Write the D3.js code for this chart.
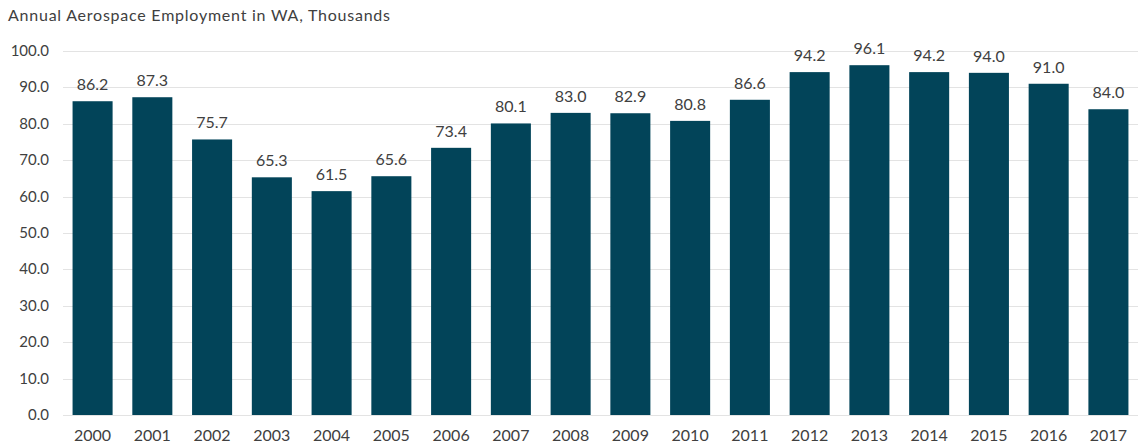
<!DOCTYPE html>
<html lang="en">
<head>
  <meta charset="UTF-8">
  <title>Annual Aerospace Employment in WA</title>
  <script src="https://d3js.org/d3.v7.min.js"></script>
  <style type="text/css">
    body { margin: 0; background: #fff; }
    text { font-family: "Lato", "Open Sans", sans-serif; fill: #404040; }
  </style>
</head>
<body>
<script type="text/javascript">
  var years = ["2000","2001","2002","2003","2004","2005","2006","2007","2008",
               "2009","2010","2011","2012","2013","2014","2015","2016","2017"];
  var employment = [86.2, 87.3, 75.7, 65.3, 61.5, 65.6, 73.4, 80.1, 83.0,
                    82.9, 80.8, 86.6, 94.2, 96.1, 94.2, 94.0, 91.0, 84.0];
  var yTicks = [0, 10, 20, 30, 40, 50, 60, 70, 80, 90, 100];
  var title = "Annual Aerospace Employment in WA, Thousands";

  var width = 1138, height = 444;
  var plotLeft = 63, plotRight = 1138, plotTop = 51, plotBottom = 415;

  var svg = d3.select("body").append("svg")
              .attr("width", width)
              .attr("height", height);

  var x = d3.scaleBand()
            .domain(years)
            .range([plotLeft, plotRight])
            .paddingInner(0.33)
            .paddingOuter(0.16);

  var y = d3.scaleLinear()
            .domain([0, 100])
            .range([plotBottom, plotTop]);

  svg.append("text")
     .attr("x", 8)
     .attr("y", 21)
     .attr("textLength", 382)
     .attr("lengthAdjust", "spacing")
     .style("font-size", "16px")
     .text(title);

  // gridlines
  svg.selectAll("line.grid")
     .data(yTicks)
     .enter()
     .append("line")
     .attr("class", "grid")
     .attr("x1", plotLeft)
     .attr("x2", plotRight)
     .attr("y1", function(d){ return Math.round(y(d)) + 0.5; })
     .attr("y2", function(d){ return Math.round(y(d)) + 0.5; })
     .attr("stroke", "#e3e3e3")
     .attr("stroke-width", 1);

  svg.selectAll("text.ytick")
     .data(yTicks)
     .enter()
     .append("text")
     .attr("class", "ytick")
     .attr("x", 49)
     .attr("y", function(d){ return y(d) + 5; })
     .attr("text-anchor", "end")
     .style("font-size", "15px")
     .text(function(d){ return d.toFixed(1); });

  svg.selectAll("rect")
     .data(employment)
     .enter()
     .append("rect")
     .attr("x", function(d, i){ return x(years[i]); })
     .attr("y", function(d){ return y(d); })
     .attr("width", x.bandwidth())
     .attr("height", function(d){ return y(0) - y(d); })
     .attr("fill", "#024459");

  svg.selectAll("text.val")
     .data(employment)
     .enter()
     .append("text")
     .attr("class", "val")
     .attr("x", function(d, i){ return x(years[i]) + x.bandwidth() / 2; })
     .attr("y", function(d){ return y(d) - 11; })
     .attr("text-anchor", "middle")
     .style("font-size", "16px")
     .text(function(d){ return d.toFixed(1); });

  svg.selectAll("text.year")
     .data(years)
     .enter()
     .append("text")
     .attr("class", "year")
     .attr("x", function(d){ return x(d) + x.bandwidth() / 2; })
     .attr("y", 441)
     .attr("text-anchor", "middle")
     .style("font-size", "16px")
     .text(function(d){ return d; });
</script>
</body>
</html>
